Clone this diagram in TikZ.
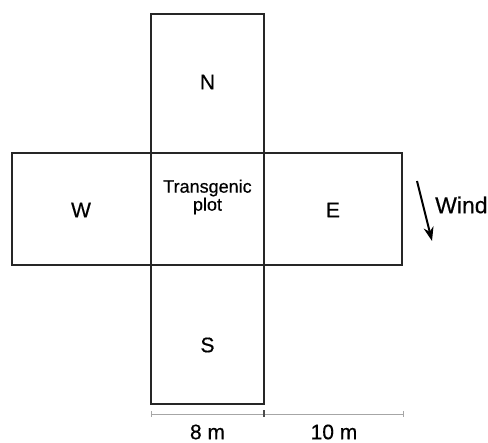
\documentclass[tikz,border=0pt]{standalone}
\usepackage{fontspec}
\setmainfont{Liberation Sans}[FakeBold=0.5]
\usetikzlibrary{arrows.meta}
\begin{document}
\begin{tikzpicture}[x=1pt,y=-1pt,
  plotbox/.style={draw=black!85,line width=1.8pt},
  lbl/.style={font=\fontsize{21}{23}\selectfont},
  scalebar/.style={draw=black!35,line width=0.8pt}]
\useasboundingbox (0,0) rectangle (488,443);
% boxes
\draw[plotbox] (151,14) rectangle (264,153);
\draw[plotbox] (12,153) rectangle (151,265);
\draw[plotbox] (264,153) rectangle (402,265);
\draw[plotbox] (151,153) rectangle (264,265);
\draw[plotbox] (151,265) rectangle (264,404);
% labels
\node[lbl] (n) at (207.5,82) {N};
\node[lbl] (w) at (81,210) {W};
\node[lbl] (e) at (333,210) {E};
\node[lbl] (s) at (207.5,345) {S};
\node[font=\fontsize{18}{18}\selectfont,align=center] (tp) at (207.5,197) {Transgenic\\plot};
% wind
\coordinate (wa) at (417,181);
\coordinate (wb) at (432,241);
\draw[line width=2pt,-{Stealth[length=14pt,width=10pt]}] (wa) -- (wb);
\node[font=\fontsize{23}{25}\selectfont,anchor=west,inner sep=0pt] (wind) at (435,205) {Wind};
% scale
\coordinate (s0) at (151,414);
\coordinate (s1) at (264,414);
\coordinate (s2) at (403,414);
\draw[scalebar] (s0) -- (s2);
\draw[scalebar] (s0) ++(0,-3) -- ++(0,6);
\draw[scalebar] (s2) ++(0,-3) -- ++(0,6);
\draw[draw=black!70,line width=1.2pt] (s1) ++(0,-3.5) -- ++(0,7);
\node[lbl] (l8) at (207.5,432) {8 m};
\node[lbl] (l10) at (334,432) {10 m};
\end{tikzpicture}
\end{document}
